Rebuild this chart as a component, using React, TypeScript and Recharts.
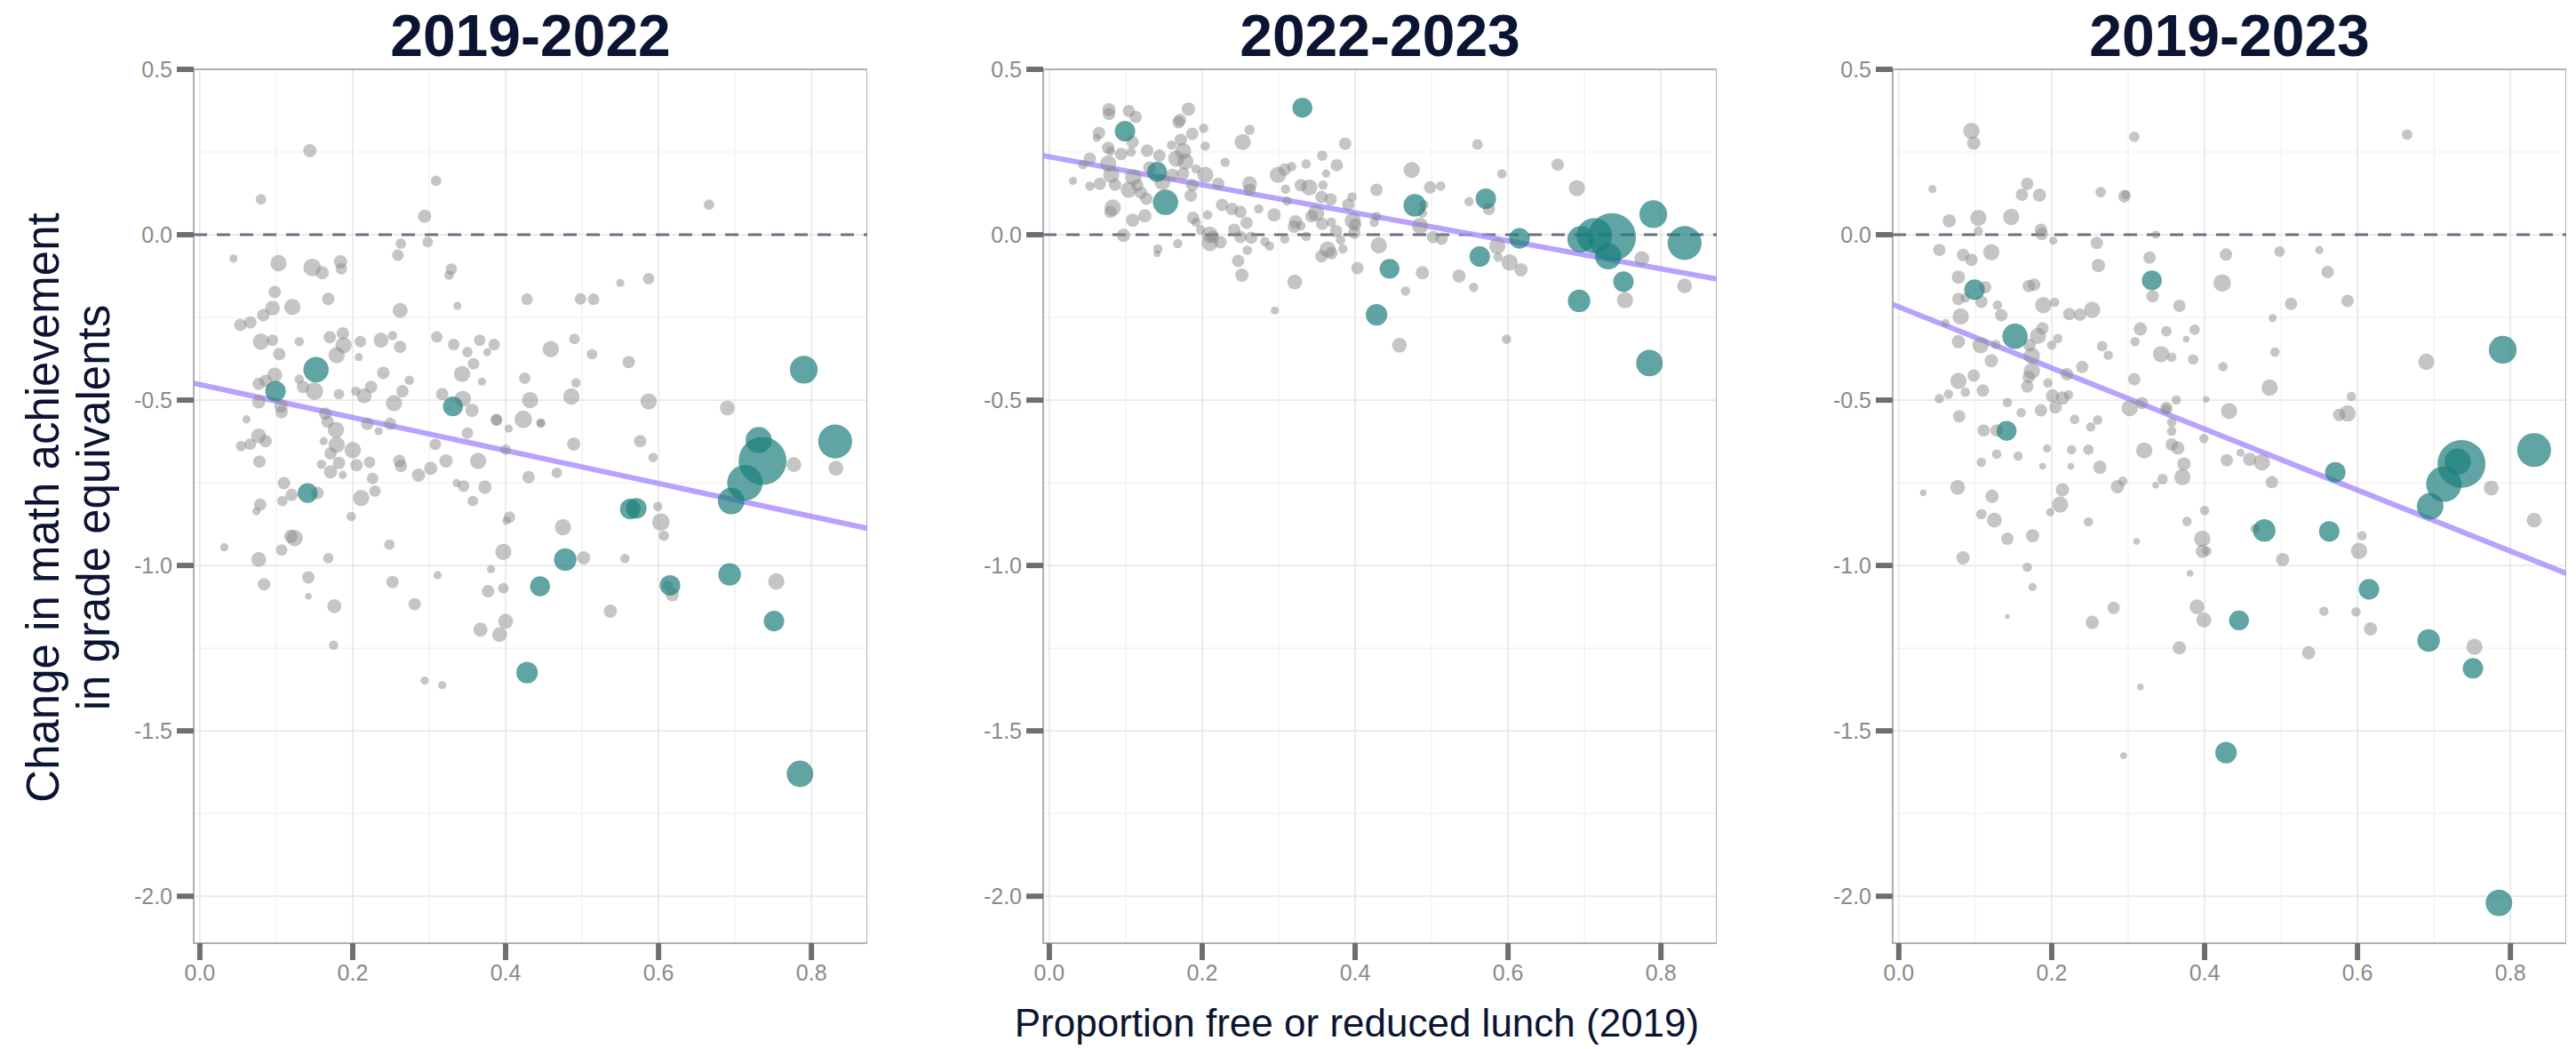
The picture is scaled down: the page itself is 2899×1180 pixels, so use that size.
import {
  CartesianGrid,
  ReferenceArea,
  ReferenceLine,
  Scatter,
  ScatterChart,
  XAxis,
  YAxis,
  ZAxis,
} from "recharts";

// ---- axes ----
const xTicks = [0, 0.2, 0.4, 0.6, 0.8];
const xMinorValues = [0.1, 0.3, 0.5, 0.7];
const yTicks = [0.5, 0, -0.5, -1, -1.5, -2];
const yMinorValues = [0.25, -0.25, -0.75, -1.25, -1.75];
const X_DOMAIN: [number, number] = [-0.008, 0.873];
const Y_DOMAIN: [number, number] = [-2.142, 0.5];

const panelTitles = ["2019-2022", "2022-2023", "2019-2023"];

// ---- highlighted districts (same districts in every panel) ----
const districtFrl = [
  0.099, 0.152, 0.141, 0.331, 0.428, 0.445, 0.478, 0.563, 0.571, 0.615, 0.693,
  0.695, 0.713, 0.731, 0.736, 0.751, 0.785, 0.79, 0.831,
];
const districtEnroll = [
  19, 29, 18, 18, 21, 18, 23, 19, 19, 19, 23, 32, 57, 31, 104, 19, 32, 35, 52,
];
const teal1922 = [
  -0.473, -0.408, -0.781, -0.519, -1.324, -1.063, -0.982, -0.829, -0.827,
  -1.06, -1.027, -0.805, -0.75, -0.621, -0.684, -1.168, -1.63, -0.408, -0.625,
];
const teal2223 = [
  0.313, 0.098, 0.19, 0.384, -0.242, -0.103, 0.089, -0.066, 0.109, -0.011,
  -0.2, -0.014, -0.003, -0.065, -0.007, -0.142, -0.388, 0.062, -0.025,
];
const teal1923 = [
  -0.166, -0.307, -0.593, -0.138, -1.566, -1.166, -0.894, -0.897, -0.718,
  -1.072, -1.227, -0.821, -0.754, -0.686, -0.693, -1.311, -2.02, -0.348,
  -0.651,
];

// ---- other districts: [frl, change, enrollment] ----
const gray1922: [number, number, number][] = [
  [0.144, 0.254, 8], [0.08, 0.107, 5], [0.309, 0.163, 5], [0.294, 0.056, 8], [0.666, 0.091, 5],
  [0.263, -0.027, 5], [0.298, -0.022, 5], [0.259, -0.062, 6], [0.044, -0.072, 3], [0.103, -0.086, 12],
  [0.147, -0.099, 14], [0.16, -0.115, 8], [0.184, -0.082, 8], [0.185, -0.103, 6], [0.329, -0.104, 6],
  [0.326, -0.122, 4], [0.587, -0.133, 6], [0.55, -0.146, 3], [0.428, -0.195, 6], [0.498, -0.194, 6],
  [0.515, -0.195, 6], [0.337, -0.215, 3], [0.098, -0.173, 7], [0.095, -0.222, 10], [0.121, -0.218, 12],
  [0.168, -0.194, 7], [0.262, -0.229, 10], [0.083, -0.243, 7], [0.066, -0.265, 7], [0.053, -0.273, 7],
  [0.08, -0.323, 12], [0.095, -0.319, 6], [0.13, -0.323, 4], [0.104, -0.361, 7], [0.17, -0.31, 7],
  [0.187, -0.298, 7], [0.188, -0.334, 12], [0.179, -0.364, 12], [0.21, -0.323, 6], [0.208, -0.37, 3],
  [0.237, -0.319, 10], [0.252, -0.305, 4], [0.262, -0.339, 7], [0.31, -0.309, 6], [0.332, -0.332, 6],
  [0.35, -0.355, 5], [0.366, -0.319, 6], [0.385, -0.332, 6], [0.376, -0.355, 3], [0.358, -0.39, 6],
  [0.343, -0.421, 12], [0.459, -0.346, 12], [0.49, -0.315, 5], [0.513, -0.361, 5], [0.561, -0.385, 7],
  [0.098, -0.424, 10], [0.077, -0.451, 7], [0.086, -0.442, 7], [0.13, -0.437, 4], [0.15, -0.473, 14],
  [0.135, -0.46, 7], [0.182, -0.482, 5], [0.204, -0.473, 4], [0.215, -0.487, 10], [0.224, -0.46, 7],
  [0.24, -0.418, 7], [0.265, -0.473, 7], [0.274, -0.44, 4], [0.254, -0.509, 12], [0.317, -0.482, 7],
  [0.344, -0.496, 12], [0.356, -0.531, 8], [0.369, -0.444, 3], [0.425, -0.434, 6], [0.492, -0.448, 4],
  [0.486, -0.489, 12], [0.432, -0.5, 12], [0.587, -0.504, 12], [0.69, -0.524, 10], [0.423, -0.558, 14],
  [0.388, -0.558, 6], [0.446, -0.569, 4], [0.077, -0.505, 8], [0.106, -0.518, 8], [0.061, -0.558, 3],
  [0.107, -0.536, 7], [0.077, -0.608, 10], [0.086, -0.624, 7], [0.054, -0.639, 5], [0.066, -0.633, 6],
  [0.078, -0.686, 7], [0.11, -0.751, 7], [0.108, -0.805, 5], [0.079, -0.816, 7], [0.074, -0.836, 3],
  [0.12, -0.787, 7], [0.154, -0.781, 7], [0.032, -0.945, 3], [0.077, -0.982, 10], [0.107, -0.953, 6],
  [0.124, -0.917, 12], [0.119, -0.912, 8], [0.168, -0.978, 5], [0.084, -1.057, 7], [0.142, -1.036, 7],
  [0.142, -1.093, 2], [0.176, -1.123, 9], [0.175, -1.241, 4], [0.248, -0.937, 5], [0.198, -0.852, 4],
  [0.211, -0.796, 12], [0.229, -0.775, 6], [0.226, -0.737, 6], [0.205, -0.697, 7], [0.222, -0.688, 6],
  [0.2, -0.651, 12], [0.179, -0.635, 12], [0.171, -0.661, 7], [0.187, -0.726, 3], [0.171, -0.717, 8],
  [0.182, -0.69, 7], [0.159, -0.694, 4], [0.178, -0.59, 12], [0.167, -0.565, 7], [0.164, -0.541, 7],
  [0.162, -0.624, 3], [0.219, -0.572, 7], [0.234, -0.594, 3], [0.249, -0.572, 7], [0.261, -0.684, 7],
  [0.263, -0.699, 7], [0.286, -0.727, 8], [0.302, -0.706, 8], [0.322, -0.684, 8], [0.308, -0.634, 6],
  [0.35, -0.6, 6], [0.364, -0.684, 12], [0.373, -0.763, 8], [0.357, -0.805, 5], [0.345, -0.76, 6],
  [0.336, -0.751, 3], [0.388, -0.561, 6], [0.404, -0.586, 3], [0.4, -0.65, 5], [0.43, -0.733, 7],
  [0.467, -0.72, 5], [0.489, -0.633, 8], [0.446, -0.57, 3], [0.576, -0.624, 7], [0.593, -0.673, 4],
  [0.777, -0.695, 10], [0.832, -0.706, 10], [0.405, -0.854, 6], [0.401, -0.865, 3], [0.475, -0.884, 12],
  [0.502, -0.977, 8], [0.556, -0.979, 4], [0.397, -0.959, 12], [0.381, -1.011, 3], [0.377, -1.078, 7],
  [0.397, -1.069, 5], [0.4, -1.169, 10], [0.392, -1.209, 10], [0.367, -1.194, 9], [0.311, -1.029, 3],
  [0.252, -1.05, 7], [0.281, -1.117, 7], [0.294, -1.348, 3], [0.317, -1.362, 3], [0.537, -1.138, 8],
  [0.603, -0.869, 14], [0.607, -0.91, 5], [0.599, -0.822, 4], [0.618, -1.088, 8], [0.612, -1.06, 5],
  [0.754, -1.048, 12],
];

const gray2223: [number, number, number][] = [
  [0.078, 0.378, 8], [0.078, 0.365, 7], [0.104, 0.374, 7], [0.113, 0.356, 7], [0.065, 0.308, 7],
  [0.062, 0.293, 3], [0.109, 0.28, 7], [0.077, 0.263, 7], [0.08, 0.253, 4], [0.094, 0.244, 7],
  [0.107, 0.25, 4], [0.128, 0.254, 7], [0.171, 0.347, 7], [0.169, 0.34, 7], [0.182, 0.38, 8],
  [0.187, 0.305, 7], [0.202, 0.322, 4], [0.204, 0.268, 4], [0.172, 0.287, 7], [0.16, 0.271, 4],
  [0.175, 0.253, 12], [0.144, 0.239, 7], [0.166, 0.23, 12], [0.178, 0.221, 12], [0.053, 0.23, 7],
  [0.044, 0.212, 4], [0.077, 0.215, 12], [0.031, 0.163, 3], [0.053, 0.147, 4], [0.066, 0.154, 7],
  [0.081, 0.181, 12], [0.086, 0.151, 7], [0.11, 0.174, 12], [0.104, 0.136, 12], [0.12, 0.127, 7],
  [0.131, 0.203, 7], [0.115, 0.15, 7], [0.127, 0.109, 7], [0.148, 0.159, 12], [0.161, 0.181, 7],
  [0.175, 0.185, 7], [0.192, 0.199, 4], [0.204, 0.181, 12], [0.187, 0.15, 7], [0.185, 0.118, 7],
  [0.23, 0.219, 4], [0.221, 0.154, 7], [0.262, 0.317, 5], [0.253, 0.28, 12], [0.083, 0.082, 12],
  [0.08, 0.069, 7], [0.109, 0.044, 8], [0.125, 0.057, 8], [0.097, -0.002, 8], [0.142, -0.043, 4],
  [0.141, -0.058, 2], [0.168, -0.027, 4], [0.188, 0.051, 7], [0.192, 0.038, 4], [0.207, 0.06, 4],
  [0.198, 0.015, 4], [0.21, 0.0, 12], [0.214, -0.007, 7], [0.21, -0.025, 12], [0.224, -0.023, 7],
  [0.226, 0.09, 7], [0.239, 0.078, 7], [0.25, 0.069, 7], [0.258, 0.036, 7], [0.242, 0.015, 7],
  [0.25, -0.007, 7], [0.264, -0.009, 7], [0.259, -0.047, 4], [0.247, -0.079, 7], [0.252, -0.122, 8],
  [0.262, 0.154, 10], [0.262, 0.136, 7], [0.274, 0.078, 4], [0.282, -0.021, 4], [0.288, -0.034, 4],
  [0.294, 0.06, 8], [0.295, -0.229, 3], [0.321, -0.143, 10], [0.308, -0.013, 4], [0.299, 0.181, 12],
  [0.308, 0.197, 7], [0.317, 0.206, 4], [0.309, 0.138, 4], [0.311, 0.102, 4], [0.322, 0.039, 8],
  [0.32, 0.024, 7], [0.329, 0.027, 4], [0.336, -0.005, 4], [0.329, 0.15, 7], [0.34, 0.143, 12],
  [0.336, 0.214, 4], [0.357, 0.239, 5], [0.362, 0.185, 3], [0.376, 0.21, 7], [0.387, 0.275, 7],
  [0.358, 0.15, 4], [0.356, 0.114, 7], [0.368, 0.107, 7], [0.349, 0.065, 12], [0.343, 0.056, 7],
  [0.357, 0.033, 7], [0.369, 0.038, 4], [0.375, 0.011, 7], [0.364, -0.045, 12], [0.369, -0.056, 7],
  [0.356, -0.065, 7], [0.384, -0.043, 4], [0.381, -0.016, 4], [0.396, 0.114, 4], [0.391, 0.091, 7],
  [0.397, 0.042, 12], [0.4, 0.03, 7], [0.399, 0.006, 7], [0.403, -0.101, 7], [0.428, 0.136, 7],
  [0.428, 0.056, 4], [0.425, 0.038, 4], [0.431, -0.032, 12], [0.474, 0.196, 12], [0.498, 0.143, 7],
  [0.512, 0.147, 4], [0.49, 0.091, 4], [0.488, 0.066, 4], [0.485, 0.027, 12], [0.502, -0.007, 7],
  [0.513, -0.012, 7], [0.488, -0.115, 8], [0.466, -0.17, 4], [0.458, -0.334, 10], [0.536, -0.125, 8],
  [0.555, -0.159, 4], [0.549, 0.1, 4], [0.575, 0.078, 7], [0.56, 0.273, 5], [0.592, 0.184, 4],
  [0.586, -0.034, 12], [0.587, -0.068, 4], [0.602, -0.084, 12], [0.617, -0.106, 8], [0.598, -0.316, 4],
  [0.665, 0.212, 7], [0.69, 0.141, 12], [0.775, -0.072, 10], [0.753, -0.198, 12], [0.831, -0.155, 10],
];

const gray1923: [number, number, number][] = [
  [0.095, 0.314, 12], [0.098, 0.277, 8], [0.308, 0.296, 5], [0.665, 0.303, 5], [0.044, 0.138, 3],
  [0.161, 0.121, 7], [0.168, 0.154, 7], [0.184, 0.12, 8], [0.264, 0.129, 5], [0.295, 0.116, 7],
  [0.297, 0.121, 4], [0.066, 0.042, 8], [0.104, 0.051, 12], [0.147, 0.054, 12], [0.104, 0.011, 4],
  [0.186, 0.015, 7], [0.187, 0.002, 7], [0.202, -0.018, 3], [0.336, 0.0, 3], [0.259, -0.025, 7],
  [0.053, -0.046, 7], [0.084, -0.061, 7], [0.095, -0.076, 7], [0.121, -0.053, 12], [0.261, -0.093, 8],
  [0.328, -0.069, 7], [0.428, -0.06, 7], [0.498, -0.051, 5], [0.55, -0.046, 3], [0.561, -0.113, 7],
  [0.078, -0.128, 8], [0.113, -0.159, 7], [0.108, -0.203, 7], [0.078, -0.194, 7], [0.087, -0.191, 4],
  [0.17, -0.155, 7], [0.177, -0.151, 7], [0.129, -0.213, 4], [0.134, -0.243, 7], [0.081, -0.247, 12],
  [0.189, -0.213, 12], [0.204, -0.204, 4], [0.223, -0.24, 7], [0.237, -0.242, 7], [0.253, -0.227, 12],
  [0.332, -0.186, 7], [0.367, -0.215, 7], [0.423, -0.146, 14], [0.513, -0.209, 7], [0.587, -0.2, 7],
  [0.489, -0.252, 3], [0.061, -0.267, 3], [0.188, -0.283, 7], [0.078, -0.323, 8], [0.107, -0.334, 12],
  [0.127, -0.332, 4], [0.182, -0.306, 12], [0.174, -0.366, 12], [0.171, -0.334, 7], [0.208, -0.314, 4],
  [0.2, -0.334, 4], [0.121, -0.381, 8], [0.316, -0.285, 8], [0.35, -0.292, 5], [0.387, -0.287, 5],
  [0.309, -0.323, 4], [0.376, -0.316, 2], [0.266, -0.337, 5], [0.274, -0.364, 4], [0.343, -0.361, 12],
  [0.357, -0.37, 4], [0.385, -0.377, 5], [0.492, -0.355, 4], [0.424, -0.399, 4], [0.485, -0.462, 12],
  [0.24, -0.4, 7], [0.22, -0.422, 7], [0.174, -0.412, 12], [0.17, -0.43, 7], [0.078, -0.442, 12],
  [0.098, -0.426, 7], [0.11, -0.471, 7], [0.087, -0.476, 4], [0.065, -0.482, 4], [0.053, -0.496, 4],
  [0.142, -0.507, 4], [0.168, -0.459, 7], [0.195, -0.448, 4], [0.201, -0.487, 8], [0.214, -0.494, 8],
  [0.222, -0.484, 4], [0.186, -0.531, 7], [0.16, -0.538, 4], [0.079, -0.549, 7], [0.308, -0.437, 7],
  [0.302, -0.524, 12], [0.318, -0.509, 7], [0.35, -0.524, 7], [0.363, -0.5, 4], [0.402, -0.498, 2],
  [0.432, -0.533, 12], [0.592, -0.489, 4], [0.587, -0.54, 12], [0.576, -0.545, 7], [0.69, -0.384, 12],
  [0.23, -0.558, 4], [0.251, -0.581, 4], [0.26, -0.56, 4], [0.205, -0.522, 7], [0.111, -0.592, 7],
  [0.128, -0.592, 7], [0.194, -0.646, 3], [0.226, -0.65, 4], [0.248, -0.65, 5], [0.108, -0.688, 4],
  [0.128, -0.663, 4], [0.156, -0.669, 4], [0.188, -0.7, 2], [0.225, -0.7, 2], [0.263, -0.703, 8],
  [0.077, -0.764, 10], [0.032, -0.78, 2], [0.122, -0.791, 8], [0.214, -0.771, 8], [0.211, -0.816, 12],
  [0.198, -0.839, 3], [0.108, -0.845, 5], [0.125, -0.863, 10], [0.142, -0.919, 7], [0.175, -0.91, 8],
  [0.084, -0.977, 8], [0.168, -1.005, 4], [0.175, -1.065, 3], [0.142, -1.154, 1], [0.248, -0.868, 4],
  [0.286, -0.762, 8], [0.293, -0.745, 4], [0.311, -0.927, 2], [0.336, -0.757, 2], [0.345, -0.739, 5],
  [0.371, -0.733, 12], [0.373, -0.693, 8], [0.321, -0.652, 12], [0.357, -0.634, 7], [0.365, -0.645, 8],
  [0.357, -0.567, 4], [0.357, -0.594, 4], [0.35, -0.527, 4], [0.399, -0.616, 4], [0.429, -0.682, 7],
  [0.459, -0.679, 8], [0.475, -0.688, 12], [0.447, -0.659, 3], [0.488, -0.748, 7], [0.775, -0.766, 10],
  [0.831, -0.863, 10], [0.377, -0.867, 4], [0.4, -0.834, 4], [0.397, -0.919, 12], [0.397, -0.957, 8],
  [0.403, -0.957, 4], [0.466, -0.888, 4], [0.502, -0.982, 8], [0.381, -1.024, 2], [0.39, -1.125, 10],
  [0.399, -1.165, 10], [0.367, -1.249, 8], [0.281, -1.128, 7], [0.253, -1.172, 8], [0.316, -1.367, 2],
  [0.294, -1.575, 2], [0.536, -1.264, 8], [0.556, -1.138, 4], [0.598, -1.14, 4], [0.617, -1.192, 8],
  [0.606, -0.91, 4], [0.602, -0.956, 12], [0.753, -1.246, 12],
];

// linear fit end points (frl, change)
const fitStart1922 = [-0.008, -0.449];
const fitEnd1922 = [0.873, -0.888];
const fitStart2223 = [-0.008, 0.239];
const fitEnd2223 = [0.873, -0.134];
const fitStart1923 = [-0.008, -0.211];
const fitEnd1923 = [0.873, -1.024];

type Pt = { x: number; y: number; z: number };

const toPoints = (rows: [number, number, number][]): Pt[] =>
  rows.map(([x, y, z]) => ({ x, y, z }));

const tealPoints = (ys: number[]): Pt[] =>
  ys.map((y, i) => ({ x: districtFrl[i], y, z: districtEnroll[i] }));

const panels = [
  {
    title: panelTitles[0],
    gray: toPoints(gray1922),
    teal: tealPoints(teal1922),
    fit: [fitStart1922, fitEnd1922],
    left: 108,
  },
  {
    title: panelTitles[1],
    gray: toPoints(gray2223),
    teal: tealPoints(teal2223),
    fit: [fitStart2223, fitEnd2223],
    left: 1064,
  },
  {
    title: panelTitles[2],
    gray: toPoints(gray1923),
    teal: tealPoints(teal1923),
    fit: [fitStart1923, fitEnd1923],
    left: 2020,
  },
];

const FONT = "'Liberation Sans', Arial, Helvetica, sans-serif";
const NAVY = "#0b1533";
const Y_AXIS_W = 110;
const PLOT_W = 758;
const CHART_H = 1180;
const TOP = 78;
const X_AXIS_H = 119;

const fmt = (v: number) => v.toFixed(1);

function Panel({
  title,
  gray,
  teal,
  fit,
  left,
}: {
  title: string;
  gray: Pt[];
  teal: Pt[];
  fit: number[][];
  left: number;
}) {
  return (
    <div style={{ position: "absolute", left, top: 0 }}>
      <div
        style={{
          position: "absolute",
          left: Y_AXIS_W,
          width: PLOT_W,
          top: 2,
          textAlign: "center",
          fontFamily: FONT,
          fontWeight: 700,
          fontSize: 66,
          lineHeight: "76px",
          color: NAVY,
        }}
      >
        {title}
      </div>
      <ScatterChart
        width={Y_AXIS_W + PLOT_W}
        height={CHART_H}
        margin={{ top: TOP, right: 0, bottom: 0, left: 0 }}
      >
        <CartesianGrid
          stroke="#f0f0f0"
          strokeWidth={1.2}
          horizontalValues={yMinorValues}
          verticalValues={xMinorValues}
        />
        <CartesianGrid
          stroke="#e9e9e9"
          strokeWidth={1.8}
          horizontalValues={yTicks}
          verticalValues={xTicks}
        />
        <XAxis
          type="number"
          dataKey="x"
          domain={X_DOMAIN}
          allowDataOverflow
          ticks={xTicks}
          interval={0}
          tickFormatter={fmt}
          axisLine={false}
          tickLine={{ stroke: "#6e6e6e", strokeWidth: 6 }}
          tickSize={19}
          tickMargin={5}
          height={X_AXIS_H}
          tick={{ fill: "#8a8a8a", fontSize: 25, fontFamily: FONT }}
        />
        <YAxis
          type="number"
          dataKey="y"
          domain={Y_DOMAIN}
          allowDataOverflow
          ticks={yTicks}
          interval={0}
          tickFormatter={fmt}
          axisLine={false}
          tickLine={{ stroke: "#6e6e6e", strokeWidth: 6 }}
          tickSize={19}
          tickMargin={5}
          width={Y_AXIS_W}
          tick={{ fill: "#8a8a8a", fontSize: 25, fontFamily: FONT }}
        />
        <ZAxis type="number" dataKey="z" domain={[0, 110]} range={[0, 2420]} />
        <ReferenceLine
          y={0}
          stroke="#6c7284"
          strokeWidth={3}
          strokeDasharray="15 11"
        />
        <Scatter
          data={gray}
          fill="#8c8c8c"
          fillOpacity={0.5}
          isAnimationActive={false}
        />
        <Scatter
          data={teal}
          fill="#1d7f7c"
          fillOpacity={0.7}
          isAnimationActive={false}
        />
        <ReferenceLine
          segment={[
            { x: fit[0][0], y: fit[0][1] },
            { x: fit[1][0], y: fit[1][1] },
          ]}
          stroke="#a68aff"
          strokeOpacity={0.8}
          strokeWidth={6}
          ifOverflow="visible"
        />
        <ReferenceArea
          x1={X_DOMAIN[0]}
          x2={X_DOMAIN[1]}
          y1={Y_DOMAIN[0]}
          y2={Y_DOMAIN[1]}
          fill="none"
          fillOpacity={0}
          stroke="#b0b0b0"
          strokeWidth={2}
          ifOverflow="visible"
        />
      </ScatterChart>
    </div>
  );
}

export default function App() {
  return (
    <div
      style={{
        position: "absolute",
        left: 0,
        top: 0,
        width: 2899,
        height: 1180,
        background: "#ffffff",
        overflow: "hidden",
      }}
    >
      {panels.map((p) => (
        <Panel key={p.title} {...p} />
      ))}
      <div
        style={{
          position: "absolute",
          left: 80 - 450,
          top: 571 - 60,
          width: 900,
          height: 120,
          transform: "rotate(-90deg)",
          textAlign: "center",
          fontFamily: FONT,
          fontSize: 51,
          lineHeight: "57px",
          color: NAVY,
        }}
      >
        Change in math achievement
        <br />
        in grade equivalents
      </div>
      <div
        style={{
          position: "absolute",
          left: 1527 - 600,
          width: 1200,
          top: 1121,
          textAlign: "center",
          fontFamily: FONT,
          fontSize: 44,
          lineHeight: "60px",
          color: NAVY,
        }}
      >
        Proportion free or reduced lunch (2019)
      </div>
    </div>
  );
}
